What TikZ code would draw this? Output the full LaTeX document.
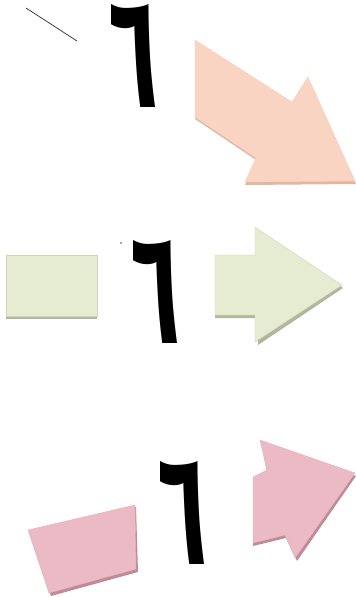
\documentclass[tikz,border=0pt]{standalone}
\usepackage{fontspec}
\usepackage{graphicx}
\newfontfamily\arabicfont[Script=Arabic]{DejaVu Sans}
\usetikzlibrary{calc}

\begin{document}
\begin{tikzpicture}[x=1pt, y=-1pt]
    % Colors
    \definecolor{peachCol}{HTML}{F9D4C2}
    \definecolor{peachEdge}{HTML}{E6B69C}
    \definecolor{greenCol}{HTML}{E5ECD2}
    \definecolor{greenEdge}{HTML}{B0B898}
    \definecolor{pinkCol}{HTML}{EBBAC4}
    \definecolor{pinkEdge}{HTML}{C48896}

    \tikzset{
        digit/.style={inner sep=0pt, text=black},
        shapeBody/.style={fill=#1Col, draw=#1Edge!60, line width=0.4pt},
        shapeShadow/.style={fill=#1Edge, draw=none}
    }
    \def\six{\resizebox*{50pt}{103pt}{\arabicfont\bfseries ٦}}

    \useasboundingbox (0,0) rectangle (356,597);

    % 1. Top row: stroke, digit and down-right arrow
    \draw[line width=0.8pt, black!75] (26,8) -- (77,41);
    \node[digit] (sixTop) at (134,56) {\six};
    \fill[shapeShadow=peach] (195,42) -- (293,104) -- (308,79) -- (356,184)
        -- (245,185) -- (256,160) -- (195,119) -- cycle;
    \filldraw[shapeBody=peach] (195,40) -- (292,102) -- (308,77) -- (355,181)
        -- (245,182) -- (256,158) -- (195,117) -- cycle;

    % 2. Middle row: plain bar, digit and right arrow
    \fill[shapeShadow=green] (6,257) rectangle (97,319);
    \filldraw[shapeBody=green] (6,255) rectangle (97,316);
    \fill[black!70] (121,243) circle (0.8pt);
    \node[digit] (sixMid) at (155.5,292) {\six};
    \fill[shapeShadow=green] (215,258) -- (255,258) -- (255,229) -- (343,288)
        -- (258,345) -- (258,318) -- (215,318) -- cycle;
    \filldraw[shapeBody=green] (215,255) -- (255,255) -- (255,227) -- (342,285)
        -- (255,342) -- (255,315) -- (215,315) -- cycle;

    % 3. Bottom row: tilted bar, digit and up-right arrow
    \fill[shapeShadow=pink] (30,533) -- (136,507) -- (138,572) -- (51,596) -- cycle;
    \filldraw[shapeBody=pink] (28,530) -- (135,505) -- (136,569) -- (49,593) -- cycle;
    \node[digit] (sixBot) at (183,513) {\six};
    \fill[shapeShadow=pink] (253,479) -- (267,472) -- (261,442) -- (356,476)
        -- (297,561) -- (286,538) -- (253,546) -- cycle;
    \filldraw[shapeBody=pink] (253,477) -- (267,470) -- (260,440) -- (355,473)
        -- (295,558) -- (285,535) -- (253,543) -- cycle;
\end{tikzpicture}
\end{document}
